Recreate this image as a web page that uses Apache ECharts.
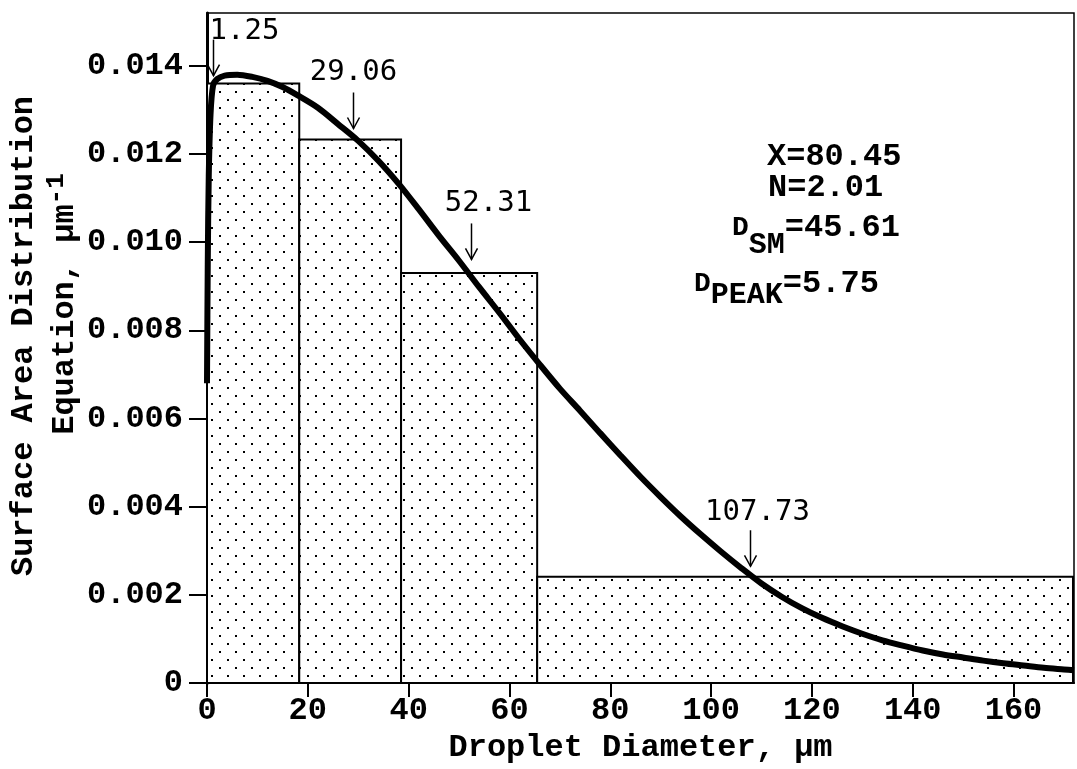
<!DOCTYPE html>
<html>
<head>
<meta charset="utf-8">
<script src="https://cdn.jsdelivr.net/npm/echarts@6/dist/echarts.min.js"></script>
<style>
  html, body { margin: 0; padding: 0; background: #fff; }
  #main { width: 1077px; height: 769px; }
</style>
</head>
<body>
<div id="main"></div>
<script>
// histogram bins (diameter edges, um) and heights
const binStart = [0, 18.3, 38.5, 65.5];
const binEnd = [18.3, 38.5, 65.5, 171.8];
const binHeight = [0.0136, 0.01233, 0.0093, 0.00241];

// fitted distribution curve
const curveX = [0, 0.15, 0.35, 0.7, 1.2, 2, 3.5, 6, 9, 12, 15, 18, 22, 26, 30, 34, 38, 42, 46, 50,
  54, 58, 62, 66, 70, 74, 78, 82, 86, 90, 94, 98, 102, 106, 110, 114, 118, 122, 126, 130,
  134, 138, 142, 146, 150, 154, 158, 162, 166, 170, 172];
const curveY = [0.0068, 0.0095, 0.0115, 0.0129, 0.01355, 0.0137, 0.01378, 0.0138, 0.01375, 0.01366,
  0.01352, 0.01333, 0.01305, 0.01268, 0.0123, 0.01185, 0.01133, 0.01075, 0.01015, 0.00958,
  0.00898, 0.0084, 0.0078, 0.00723, 0.00668, 0.00618, 0.00567, 0.00517, 0.00468, 0.00422,
  0.00378, 0.00337, 0.00298, 0.00261, 0.00226, 0.00196, 0.0017, 0.00148, 0.00129, 0.00112,
  0.00097, 0.00085, 0.00074, 0.00065, 0.00058, 0.00051, 0.00045, 0.0004, 0.00035, 0.00031, 0.00029];

// marked diameters with arrows
const markX = [1.25, 29.06, 52.31, 107.73];
const markTip = [0.01378, 0.01258, 0.00961, 0.00265];
const markText = ['1.25', '29.06', '52.31', '107.73'];
// label offset from arrow tip
const markDx = [31, 0, 17, 7];
const markDy = [-44, -56, -56, -54];

const xTicks = [0, 20, 40, 60, 80, 100, 120, 140, 160];
const yTicks = [0, 0.002, 0.004, 0.006, 0.008, 0.010, 0.012, 0.014];

// dotted fill
const tile = document.createElement('canvas');
tile.width = 16; tile.height = 16;
const tc = tile.getContext('2d');
tc.fillStyle = '#fff';
tc.fillRect(0, 0, 16, 16);
tc.fillStyle = '#000';
tc.fillRect(3, 3, 2, 2);
tc.fillRect(11, 11, 2, 2);
const dots = { image: tile, repeat: 'repeat' };

const tickFont = { fontFamily: 'Liberation Mono', fontWeight: 'bold', fontSize: 32, color: '#000' };

let myChart = echarts.init(document.getElementById('main'));

let option = {
  animation: false,
  backgroundColor: '#fff',
  grid: {
    left: 207, right: 3, top: 13, bottom: 73,
    show: true, borderColor: '#000', borderWidth: 1.5
  },
  xAxis: {
    type: 'value', min: 0, max: 172, interval: 20,
    name: 'Droplet Diameter, \u03bcm',
    nameLocation: 'middle', nameGap: 40,
    nameTextStyle: tickFont,
    axisLine: { lineStyle: { color: '#000', width: 2 } },
    axisTick: { customValues: xTicks, length: 14, lineStyle: { color: '#000', width: 2 } },
    axisLabel: Object.assign({ customValues: xTicks, margin: 12 }, tickFont),
    splitLine: { show: false }
  },
  yAxis: {
    type: 'value', min: 0, max: 0.0152, interval: 0.002,
    axisLine: { show: true, lineStyle: { color: '#000', width: 3 } },
    axisTick: { show: true, customValues: yTicks, length: 18, lineStyle: { color: '#000', width: 2 } },
    axisLabel: Object.assign({
      customValues: yTicks, margin: 24,
      formatter: function (v) { return v === 0 ? '0' : v.toFixed(3); }
    }, tickFont),
    splitLine: { show: false }
  },
  series: [
    {
      type: 'custom',
      z: 2,
      data: binStart.map(function (s, i) { return [s, binEnd[i], binHeight[i]]; }),
      encode: { x: [0, 1], y: 2 },
      renderItem: function (params, api) {
        let a = api.coord([api.value(0), api.value(2)]);
        let b = api.coord([api.value(1), 0]);
        return {
          type: 'rect',
          shape: { x: a[0], y: a[1], width: b[0] - a[0], height: b[1] - a[1] },
          style: { fill: dots, stroke: '#000', lineWidth: 2 }
        };
      }
    },
    {
      type: 'line',
      z: 3,
      data: curveX.map(function (x, i) { return [x, curveY[i]]; }),
      symbol: 'none',
      smooth: 0.3,
      lineStyle: { color: '#000', width: 6 }
    },
    {
      type: 'custom',
      z: 4,
      data: markX.map(function (x, i) { return [x, markTip[i], i]; }),
      encode: { x: 0, y: 1 },
      renderItem: function (params, api) {
        let p = api.coord([api.value(0), api.value(1)]);
        let i = api.value(2);
        let x = Math.round(p[0]) + 0.5, y = p[1];
        return {
          type: 'group',
          children: [
            { type: 'line', shape: { x1: x, y1: y - 36, x2: x, y2: y }, style: { stroke: '#000', lineWidth: 1.5 } },
            { type: 'polyline', shape: { points: [[x - 6, y - 11], [x, y], [x + 6, y - 11]] }, style: { stroke: '#000', lineWidth: 1.5, fill: null } },
            {
              type: 'text',
              x: x + markDx[i], y: y + markDy[i],
              style: {
                text: markText[i], fill: '#000',
                font: '29px "DejaVu Sans Mono"',
                align: 'center', verticalAlign: 'middle'
              }
            }
          ]
        };
      }
    }
  ],
  graphic: [
    {
      type: 'text', x: 24, y: 336, rotation: Math.PI / 2,
      style: {
        text: 'Surface Area Distribution', fill: '#000',
        font: 'bold 32px "Liberation Mono"', align: 'center', verticalAlign: 'middle'
      }
    },
    {
      type: 'text', x: 62, y: 304, rotation: Math.PI / 2,
      style: {
        text: '{m|Equation, \u03bcm}{s|-1}', fill: '#000',
        align: 'center', verticalAlign: 'middle',
        rich: {
          m: { font: 'bold 32px "Liberation Mono"', verticalAlign: 'top', padding: [6, 0, 0, 0] },
          s: { font: 'bold 26px "Liberation Mono"', verticalAlign: 'top' }
        }
      }
    },
    {
      type: 'text', x: 767, y: 157,
      style: { text: 'X=80.45', fill: '#000', font: 'bold 32px "Liberation Mono"', verticalAlign: 'middle' }
    },
    {
      type: 'text', x: 768, y: 188,
      style: { text: 'N=2.01', fill: '#000', font: 'bold 32px "Liberation Mono"', verticalAlign: 'middle' }
    },
    {
      type: 'text', x: 732, y: 212,
      style: {
        text: '{d|D}{s|SM}{m|=45.61}', fill: '#000',
        rich: {
          d: { font: 'bold 28px "Liberation Mono"', verticalAlign: 'top', padding: [2, 0, 0, 0] },
          s: { font: 'bold 30px "Liberation Mono"', verticalAlign: 'top', padding: [18, 0, 0, 0] },
          m: { font: 'bold 32px "Liberation Mono"', verticalAlign: 'top' }
        }
      }
    },
    {
      type: 'text', x: 694, y: 268,
      style: {
        text: '{d|D}{s|PEAK}{m|=5.75}', fill: '#000',
        rich: {
          d: { font: 'bold 28px "Liberation Mono"', verticalAlign: 'top', padding: [2, 0, 0, 0] },
          s: { font: 'bold 30px "Liberation Mono"', verticalAlign: 'top', padding: [12, 0, 0, 0] },
          m: { font: 'bold 32px "Liberation Mono"', verticalAlign: 'top' }
        }
      }
    }
  ]
};

myChart.setOption(option);
</script>
</body>
</html>
